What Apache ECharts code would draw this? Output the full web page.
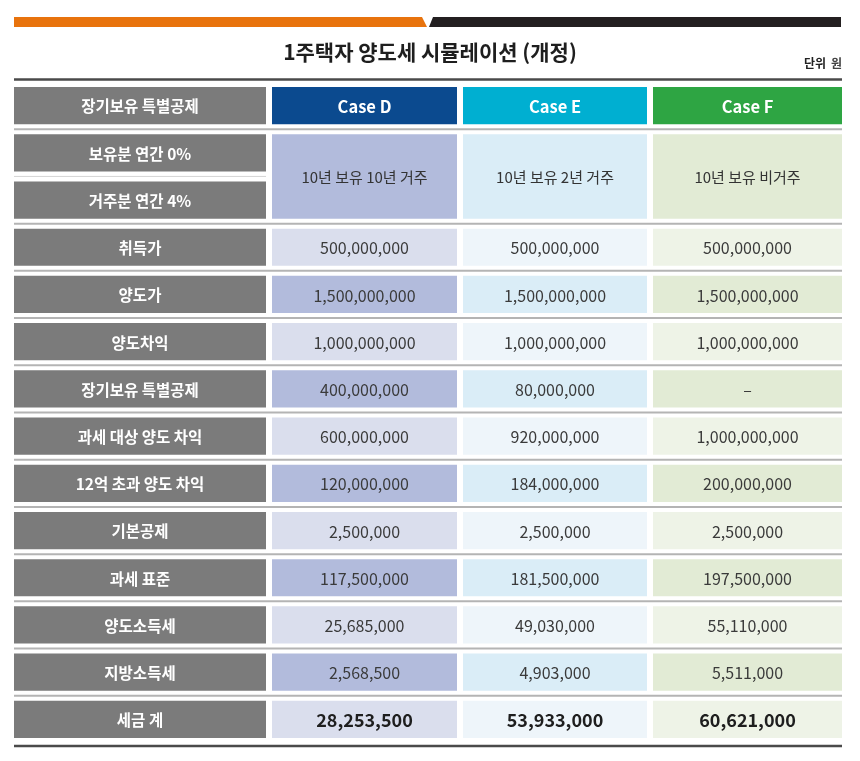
<!DOCTYPE html>
<html>
<head>
<meta charset="utf-8">
<title>1주택자 양도세 시뮬레이션 (개정)</title>
<script src="https://cdn.jsdelivr.net/npm/echarts@6/dist/echarts.min.js"></script>
<style>
html, body { margin: 0; padding: 0; background: #fff; }
#chart { width: 860px; height: 761px; }
</style>
</head>
<body>
<div id="chart"></div>
<script>
var titleText = '1주택자 양도세 시뮬레이션 (개정)';
var unitLabel = '단위';
var unitText = '원';
var headLabel = '장기보유 특별공제';
var caseNames = ['Case D', 'Case E', 'Case F'];
var rateLabels = ['보유분 연간 0%', '거주분 연간 4%'];
var caseDesc = ['10년 보유 10년 거주', '10년 보유 2년 거주', '10년 보유 비거주'];
var rowLabels = ['취득가', '양도가', '양도차익', '장기보유 특별공제', '과세 대상 양도 차익',
    '12억 초과 양도 차익', '기본공제', '과세 표준', '양도소득세', '지방소득세', '세금 계'];
var caseD = [500000000, 1500000000, 1000000000, 400000000, 600000000, 120000000,
    2500000, 117500000, 25685000, 2568500, 28253500];
var caseE = [500000000, 1500000000, 1000000000, 80000000, 920000000, 184000000,
    2500000, 181500000, 49030000, 4903000, 53933000];
var caseF = [500000000, 1500000000, 1000000000, null, 1000000000, 200000000,
    2500000, 197500000, 55110000, 5511000, 60621000];

var FONT = '"Noto Sans CJK KR", "Noto Sans", sans-serif';
// layout: column spans on the x axis (px units), rows are 1 unit each on y
var colEdges = [[0, 252], [258, 443], [449, 633], [639, 828]];
var headColors = ['#0b4a8f', '#00afd1', '#2ea543'];
var darkFill = ['#b2bbdc', '#daedf7', '#e2ebd5'];
var lightFill = ['#dadeed', '#eef5fa', '#eef3e7'];
var labelFill = '#7b7b7b';

function fmt(v) {
    return v == null ? '–' : v.toLocaleString('en-US');
}

var cells = [];
cells.push({col: 0, row: 0, span: 1, fill: labelFill, text: headLabel, color: '#fff', bold: true, size: 15.5});
caseNames.forEach(function (n, i) {
    cells.push({col: i + 1, row: 0, span: 1, fill: headColors[i], text: n, color: '#fff', bold: true, size: 16.5});
});
rateLabels.forEach(function (t, i) {
    cells.push({col: 0, row: 1 + i, span: 1, fill: labelFill, text: t, color: '#fff', bold: true, size: 15.5});
});
caseDesc.forEach(function (t, i) {
    cells.push({col: i + 1, row: 1, span: 2, fill: darkFill[i], text: t, color: '#333', bold: false, size: 15});
});
var allCases = [caseD, caseE, caseF];
rowLabels.forEach(function (lab, r) {
    var row = 3 + r;
    var dark = r % 2 === 1;
    var last = r === rowLabels.length - 1;
    cells.push({col: 0, row: row, span: 1, fill: labelFill, text: lab, color: '#fff', bold: true, size: 15.5});
    allCases.forEach(function (vals, i) {
        cells.push({col: i + 1, row: row, span: 1, fill: dark ? darkFill[i] : lightFill[i],
            text: fmt(vals[r]), color: last ? '#1e1e1e' : '#3a3a3a', bold: last, size: last ? 18 : 16});
    });
});

// separators between row groups; second value 1 = thin line under label column only
var seps = [[1, 0], [2, 1], [3, 0], [4, 0], [5, 0], [6, 0], [7, 0], [8, 0], [9, 0], [10, 0], [11, 0], [12, 0], [13, 0]];
var rules = [[0, -2.5], [14, 3]];

function renderCell(params, api) {
    var c = cells[params.dataIndex];
    var ce = colEdges[api.value(0)];
    var p0 = api.coord([ce[0], api.value(1)]);
    var p1 = api.coord([ce[1], api.value(1) + api.value(2)]);
    var pad = 5;
    var y0 = p0[1] + pad, h = p1[1] - p0[1] - 2 * pad;
    return {
        type: 'group',
        children: [{
            type: 'rect',
            shape: {x: p0[0], y: y0, width: p1[0] - p0[0], height: h},
            style: {fill: c.fill}
        }, {
            type: 'text',
            style: {
                text: c.text,
                x: (p0[0] + p1[0]) / 2,
                y: y0 + h / 2 + 1,
                align: 'center',
                verticalAlign: 'middle',
                fill: c.color,
                font: (c.bold ? 'bold ' : '') + c.size + 'px ' + FONT
            }
        }]
    };
}

function renderSep(params, api) {
    var thin = api.value(1) === 1;
    var a = api.coord([0, api.value(0)]);
    var b = api.coord([thin ? colEdges[0][1] : colEdges[3][1], api.value(0)]);
    return {
        type: 'line',
        shape: {x1: a[0], y1: a[1], x2: b[0], y2: b[1]},
        style: {stroke: thin ? '#d4d4d4' : '#b4b4b4', lineWidth: thin ? 1 : 2}
    };
}

function renderRule(params, api) {
    var a = api.coord([0, api.value(0)]);
    var b = api.coord([colEdges[3][1], api.value(0)]);
    var dy = api.value(1);
    return {
        type: 'line',
        shape: {x1: a[0], y1: a[1] + dy, x2: b[0], y2: b[1] + dy},
        style: {stroke: '#4a4a4a', lineWidth: 2.5}
    };
}

var myChart = echarts.init(document.getElementById('chart'));
var option = {
    animation: false,
    backgroundColor: '#fff',
    title: [{
        text: titleText,
        left: 'center',
        top: 40,
        padding: 0,
        textStyle: {fontFamily: FONT, fontSize: 21, fontWeight: 'bold', color: '#1e1e1e', lineHeight: 24}
    }, {
        text: '{b|' + unitLabel + '} {n|' + unitText + '}',
        right: 18,
        top: 54,
        padding: 0,
        textStyle: {
            rich: {
                b: {fontFamily: FONT, fontSize: 12, fontWeight: 'bold', color: '#222'},
                n: {fontFamily: FONT, fontSize: 12, color: '#444'}
            }
        }
    }],
    graphic: [{
        type: 'polygon',
        shape: {points: [[14, 17], [422, 17], [427, 27], [14, 27]]},
        style: {fill: '#e8730d'}
    }, {
        type: 'polygon',
        shape: {points: [[433, 17], [841, 17], [841, 27], [429, 27]]},
        style: {fill: '#231f20'}
    }],
    grid: {left: 14, right: 18, top: 82, bottom: 18},
    xAxis: {type: 'value', min: 0, max: 828, show: false},
    yAxis: {type: 'value', min: 0, max: 14, inverse: true, show: false},
    series: [{
        type: 'custom',
        renderItem: renderSep,
        data: seps,
        silent: true
    }, {
        type: 'custom',
        renderItem: renderRule,
        data: rules,
        silent: true
    }, {
        type: 'custom',
        renderItem: renderCell,
        data: cells.map(function (c) { return [c.col, c.row, c.span]; }),
        silent: true
    }]
};
myChart.setOption(option);
window.onresize = function () {
    myChart.resize();
};
</script>
</body>
</html>
